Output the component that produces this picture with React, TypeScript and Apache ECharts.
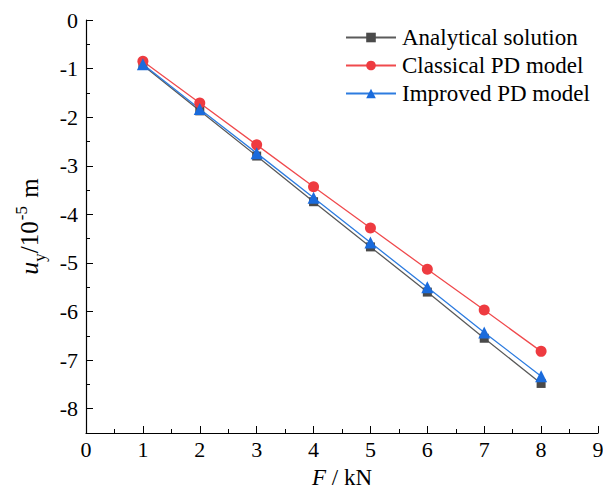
import React, { useEffect, useRef } from "react";
import * as echarts from "echarts";

const forces = [1, 2, 3, 4, 5, 6, 7, 8];
const analytical = [-0.93, -1.87, -2.8, -3.74, -4.67, -5.6, -6.55, -7.48];
const classical = [-0.85, -1.71, -2.57, -3.43, -4.28, -5.13, -5.97, -6.82];
const improved = [-0.91, -1.83, -2.74, -3.66, -4.58, -5.5, -6.43, -7.33];
const yMajorTicks = [0, -1, -2, -3, -4, -5, -6, -7, -8];
const yMinorTicks = [-0.5, -1.5, -2.5, -3.5, -4.5, -5.5, -6.5, -7.5];
const seriesNames = ["Analytical solution", "Classical PD model", "Improved PD model"];

const FONT = "'Liberation Serif', 'Times New Roman', serif";

export default function App() {
  const ref = useRef<HTMLDivElement>(null);
  useEffect(() => {
    if (!ref.current) return;
    const chart = echarts.init(ref.current, undefined, { renderer: "svg" });
    const mk = (vals: number[]) => forces.map((f, i) => [f, vals[i]]);
    chart.setOption({
      animation: false,
      textStyle: { fontFamily: FONT },
      grid: { left: 86, right: 5, top: 20, bottom: 60, containLabel: false, outerBoundsMode: "none" },
      legend: {
        orient: "vertical",
        left: 340,
        top: 21,
        itemWidth: 50,
        itemHeight: 12,
        itemGap: 5,
        textStyle: { fontFamily: FONT, fontSize: 23, color: "#000", padding: [0, 0, 0, 1] },
        data: seriesNames,
      },
      xAxis: {
        type: "value",
        min: 0,
        max: 9,
        interval: 1,
        name: "{i|F} / kN",
        nameLocation: "middle",
        nameGap: 33,
        nameTextStyle: {
          fontFamily: FONT,
          fontSize: 23,
          color: "#000",
          rich: {
            i: { fontFamily: FONT, fontSize: 23, fontStyle: "italic", color: "#000" },
          },
        },
        axisLine: { show: true, onZero: false, lineStyle: { color: "#000", width: 1.2 } },
        axisTick: { show: true, inside: true, length: 7, lineStyle: { color: "#000" } },
        minorTick: { show: true, splitNumber: 2, length: 4, lineStyle: { color: "#000" } },
        axisLabel: { fontFamily: FONT, fontSize: 22, color: "#000", margin: 5 },
        splitLine: { show: false },
      },
      yAxis: [
        {
          type: "value",
          min: -8.5,
          max: 0,
          name: "{i|u}{sub|y}{n|/10}{sup|-5}{n| m}",
          nameLocation: "middle",
          nameRotate: 90,
          nameGap: 41,
          nameTextStyle: {
            fontFamily: FONT,
            fontSize: 25,
            color: "#000",
            rich: {
              i: { fontFamily: FONT, fontSize: 26, fontStyle: "italic", color: "#000", lineHeight: 32, verticalAlign: "middle" },
              n: { fontFamily: FONT, fontSize: 25, color: "#000", lineHeight: 32, verticalAlign: "middle" },
              sub: { fontFamily: FONT, fontSize: 17, color: "#000", lineHeight: 32, verticalAlign: "bottom", padding: [0, 0, -3, 0] },
              sup: { fontFamily: FONT, fontSize: 17, color: "#000", lineHeight: 32, verticalAlign: "top", padding: [0, 2, 0, 1] },
            },
          },
          axisLine: { show: true, onZero: false, lineStyle: { color: "#000", width: 1.2 } },
          axisTick: { show: true, inside: true, length: 7, customValues: yMajorTicks, lineStyle: { color: "#000" } },
          axisLabel: { fontFamily: FONT, fontSize: 22, color: "#000", margin: 8, customValues: yMajorTicks },
          splitLine: { show: false },
        },
        {
          type: "value",
          min: -8.5,
          max: 0,
          position: "left",
          axisLine: { show: false },
          axisTick: { show: true, inside: true, length: 4, customValues: yMinorTicks, lineStyle: { color: "#000" } },
          axisLabel: { show: false },
          splitLine: { show: false },
        },
      ],
      series: [
        {
          name: seriesNames[0],
          type: "line",
          data: mk(analytical),
          symbol: "rect",
          symbolSize: 9,
          lineStyle: { color: "#5a5a5a", width: 1.3 },
          itemStyle: { color: "#4a4a4a" },
        },
        {
          name: seriesNames[1],
          type: "line",
          data: mk(classical),
          symbol: "circle",
          symbolSize: 11,
          lineStyle: { color: "#f04a4d", width: 1.3 },
          itemStyle: { color: "#ee3b40" },
        },
        {
          name: seriesNames[2],
          type: "line",
          data: mk(improved),
          symbol: "triangle",
          symbolSize: 12,
          lineStyle: { color: "#2d7ce0", width: 1.3 },
          itemStyle: { color: "#1a6bdc" },
        },
      ],
    });
    return () => chart.dispose();
  }, []);
  return <div ref={ref} style={{ width: 603, height: 493, position: "absolute", left: 0, top: 0 }} />;
}
